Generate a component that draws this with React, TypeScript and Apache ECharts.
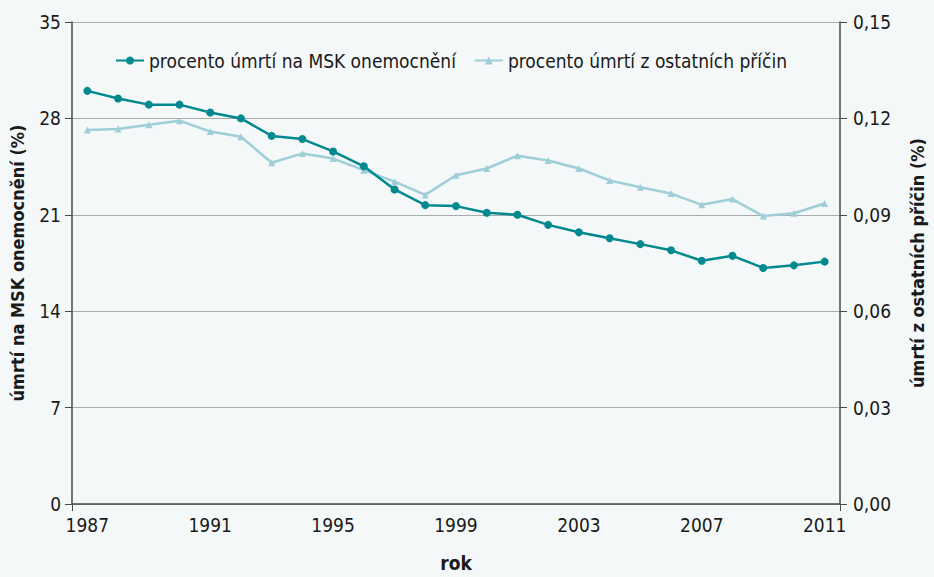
import React, { useEffect, useRef } from "react";
import * as echarts from "echarts";

const years = ["1987","1988","1989","1990","1991","1992","1993","1994","1995","1996","1997","1998","1999","2000","2001","2002","2003","2004","2005","2006","2007","2008","2009","2010","2011"];
const msk = [30.0,29.45,29.0,29.0,28.43,28.0,26.73,26.5,25.6,24.52,22.84,21.7,21.63,21.15,21.0,20.27,19.73,19.3,18.87,18.42,17.66,18.02,17.14,17.33,17.6];
const other = [0.1164,0.1167,0.118,0.1193,0.1159,0.1143,0.1062,0.1091,0.1075,0.1039,0.1003,0.0962,0.1023,0.1044,0.1084,0.1069,0.1044,0.1007,0.0986,0.0966,0.0931,0.0949,0.0896,0.0905,0.0935];
const seriesNames = ["procento úmrtí na MSK onemocnění", "procento úmrtí z ostatních příčin"];

const FONT = '"DejaVu Sans Condensed", "Roboto", sans-serif';
const DARK = "#00898f";
const LIGHT = "#9ecfd7";
const AXIS = "#4a4a4a";
const TXT = "#1a1a1a";

export default function App() {
  const ref = useRef<HTMLDivElement>(null);
  useEffect(() => {
    if (!ref.current) return;
    const chart = echarts.init(ref.current, undefined, { renderer: "svg" });
    chart.setOption({
      animation: false,
      backgroundColor: "#f4f8f8",
      textStyle: { fontFamily: FONT },
      grid: { left: 68, right: 87, top: 22, bottom: 64, containLabel: false },
      legend: {
        left: 110,
        top: 46,
        itemWidth: 28,
        itemHeight: 10,
        itemGap: 18,
        textStyle: { fontFamily: FONT, fontSize: 19, color: TXT },
        data: seriesNames,
      },
      xAxis: {
        type: "category",
        data: years,
        boundaryGap: true,
        name: "rok",
        nameLocation: "middle",
        nameGap: 49,
        nameTextStyle: { fontFamily: FONT, fontSize: 19, fontWeight: "bold", color: TXT },
        axisLine: { lineStyle: { color: AXIS, width: 1.5 } },
        axisTick: { show: true, length: 7, interval: (i: number) => i === 0, lineStyle: { color: AXIS } },
        axisLabel: { interval: 3, fontSize: 19, color: TXT, margin: 11, fontFamily: FONT },
        splitLine: { show: false },
      },
      yAxis: [
        {
          type: "value", min: 0, max: 35, interval: 7,
          name: "úmrtí na MSK onemocnění (%)", nameLocation: "middle", nameRotate: 90, nameGap: 46,
          nameTextStyle: { fontFamily: FONT, fontSize: 18, fontWeight: "bold", color: TXT },
          axisLine: { show: true, lineStyle: { color: AXIS, width: 1.5 } },
          axisTick: { show: true, length: 7, lineStyle: { color: AXIS } },
          axisLabel: { fontSize: 19, color: TXT, margin: 11, fontFamily: FONT },
          splitLine: { show: true, lineStyle: { color: "#ababab", width: 1.2 } },
        },
        {
          type: "value", min: 0, max: 0.15, interval: 0.03, position: "right",
          name: "úmrtí z ostatních příčin (%)", nameLocation: "middle", nameRotate: 90, nameGap: 68,
          nameTextStyle: { fontFamily: FONT, fontSize: 18, fontWeight: "bold", color: TXT },
          axisLine: { show: true, lineStyle: { color: AXIS, width: 1.5 } },
          axisTick: { show: true, length: 7, lineStyle: { color: AXIS } },
          axisLabel: { fontSize: 19, color: TXT, margin: 13, fontFamily: FONT, formatter: (v: number) => v.toFixed(2).replace(".", ",") },
          splitLine: { show: false },
        },
      ],
      series: [
        { name: seriesNames[0], type: "line", yAxisIndex: 0, data: msk, symbol: "circle", symbolSize: 8, itemStyle: { color: DARK }, lineStyle: { color: DARK, width: 2.5 }, z: 3 },
        { name: seriesNames[1], type: "line", yAxisIndex: 1, data: other, symbol: "triangle", symbolSize: 7, itemStyle: { color: LIGHT }, lineStyle: { color: LIGHT, width: 2.5 }, z: 2 },
      ],
    });
    return () => chart.dispose();
  }, []);
  return (
    <div ref={ref} style={{ position: "absolute", left: 0, top: 0, width: 934, height: 577, background: "#f4f8f8" }} />
  );
}
